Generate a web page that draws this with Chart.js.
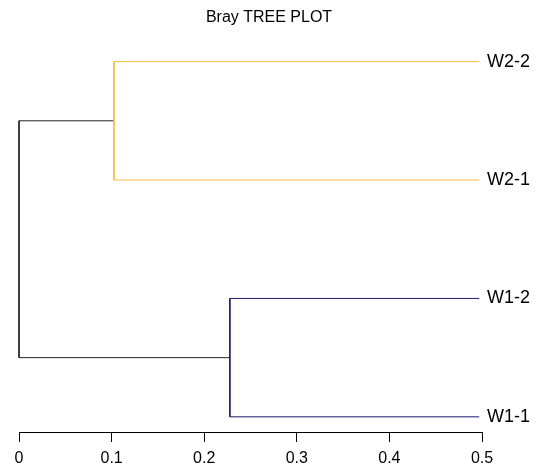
<!DOCTYPE html>
<html>
<head>
<meta charset="utf-8">
<script src="https://cdn.jsdelivr.net/npm/chart.js@4"></script>
<style>
  html, body { margin: 0; padding: 0; background: #fff; }
  canvas { display: block; }
</style>
</head>
<body>
<canvas id="c" width="538" height="468"></canvas>
<script>
// ---- data ----
const title = 'Bray TREE PLOT';
const leafLabels = ['W2-2', 'W2-1', 'W1-2', 'W1-1'];
const leafPositions = [4, 3, 2, 1];
const leafHeight = 0.497;
const clusterW2Height = 0.1025;
const clusterW1Height = 0.2277;
const rootHeight = 0;
const xTicks = [0, 0.1, 0.2, 0.3, 0.4, 0.5];
const colorW2 = '#F6BB3E';
const colorW1 = '#1A1A6C';
const colorRoot = '#222222';

// ---- build dendrogram segments from the data ----
const mid = (a, b) => (a + b) / 2;
const w2Top = leafPositions[0], w2Bot = leafPositions[1];
const w1Top = leafPositions[2], w1Bot = leafPositions[3];
const w2Mid = mid(w2Top, w2Bot), w1Mid = mid(w1Top, w1Bot);

const datasets = [
  {
    data: [
      { x: leafHeight, y: w2Top }, { x: clusterW2Height, y: w2Top },
      { x: clusterW2Height, y: w2Bot }, { x: leafHeight, y: w2Bot }
    ],
    borderColor: colorW2
  },
  {
    data: [
      { x: leafHeight, y: w1Top }, { x: clusterW1Height, y: w1Top },
      { x: clusterW1Height, y: w1Bot }, { x: leafHeight, y: w1Bot }
    ],
    borderColor: colorW1
  },
  {
    data: [
      { x: clusterW2Height, y: w2Mid }, { x: rootHeight, y: w2Mid },
      { x: rootHeight, y: w1Mid }, { x: clusterW1Height, y: w1Mid }
    ],
    borderColor: colorRoot
  }
].map(d => Object.assign(d, {
  borderWidth: 1, pointRadius: 0, tension: 0, fill: false, clip: false, showLine: true
}));

const fam = 'Liberation Sans, Arial, sans-serif';

new Chart(document.getElementById('c'), {
  type: 'scatter',
  data: { datasets },
  options: {
    responsive: false,
    animation: false,
    layout: { padding: { top: 0, bottom: 0, left: 0, right: 0 } },
    plugins: {
      legend: { display: false },
      tooltip: { enabled: false },
      title: {
        display: true,
        text: title,
        color: '#000',
        font: { family: fam, size: 16, weight: 'normal' },
        padding: { top: 8, bottom: 19 }
      }
    },
    scales: {
      x: {
        type: 'linear',
        min: 0,
        max: 0.5,
        afterBuildTicks: s => { s.ticks = xTicks.map(v => ({ value: v })); },
        afterFit: s => { s.height = 36; },
        ticks: {
          color: '#000',
          font: { family: fam, size: 16 },
          padding: 7,
          maxRotation: 0,
          callback: v => String(Math.round(v * 10) / 10)
        },
        grid: { display: true, drawOnChartArea: false, drawTicks: true, tickLength: 10, color: '#000', lineWidth: 1 },
        border: { display: true, color: '#000', width: 1 }
      },
      y: {
        type: 'linear',
        position: 'right',
        min: 0.872,
        max: 4.13,
        afterBuildTicks: s => { s.ticks = leafPositions.map(v => ({ value: v })); },
        afterFit: s => { s.width = 56; },
        ticks: {
          color: '#000',
          font: { family: fam, size: 18 },
          padding: 5,
          callback: v => leafLabels[leafPositions.indexOf(v)] || ''
        },
        grid: { display: false, drawTicks: false },
        border: { display: false }
      },
      yLeft: {
        type: 'linear',
        position: 'left',
        min: 0,
        max: 1,
        afterFit: s => { s.width = 19; },
        ticks: { display: false },
        grid: { display: false, drawTicks: false },
        border: { display: false }
      }
    }
  }
});
</script>
</body>
</html>
